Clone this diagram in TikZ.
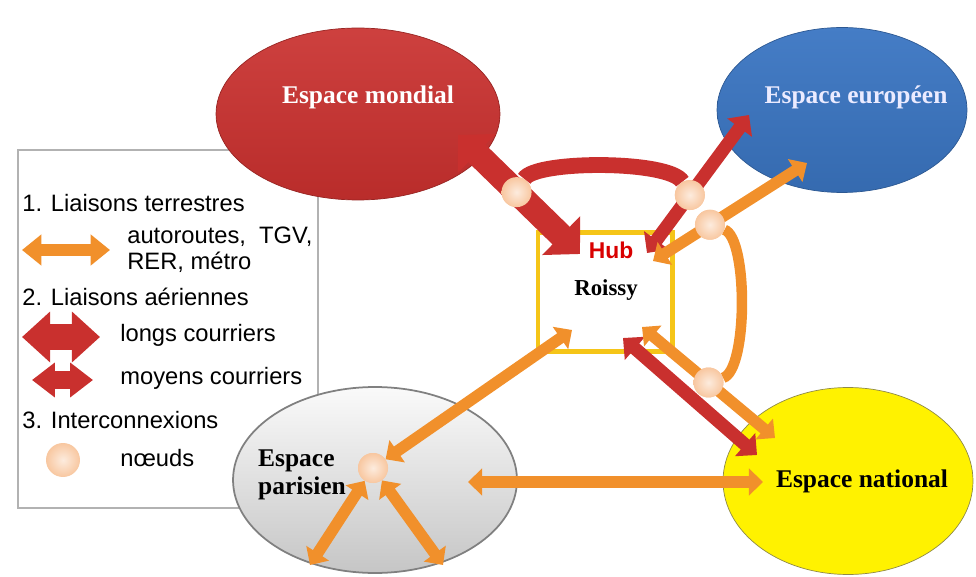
\documentclass[tikz,border=0pt]{standalone}
\usepackage{fontspec}
\setmainfont{Liberation Serif}
\setsansfont{Liberation Sans}
\usetikzlibrary{shapes.geometric,arrows.meta,calc}
\definecolor{rouge}{HTML}{C9302E}
\definecolor{terre}{HTML}{F1902B}
\definecolor{peche}{HTML}{F8C7A0}
\definecolor{bleu}{HTML}{3B76C3}
\definecolor{or}{HTML}{F5C518}
\tikzset{
  espace/.style={ellipse,inner sep=0pt},
  titre/.style={font=\bfseries\fontsize{14.5}{16}\selectfont,inner sep=0pt},
  legende/.style={font=\sffamily\fontsize{13.5}{15}\selectfont,anchor=west,inner sep=0pt},
  routes/.style={terre,line width=6.5pt,{Triangle[width=15pt,length=8pt]}-{Triangle[width=15pt,length=8pt]}},
  longs/.style={rouge,line width=14pt,{Triangle[width=30pt,length=15pt]}-{Triangle[width=30pt,length=15pt]}},
  moyens/.style={rouge,line width=7.5pt,{Triangle[width=17pt,length=9pt]}-{Triangle[width=17pt,length=9pt]}},
  noeud/.style={circle,minimum size=0.6cm,inner sep=0pt,inner color=peche!35!white,outer color=peche}
}
\begin{document}
\begin{tikzpicture}[x=0.02cm,y=-0.02cm]
  \useasboundingbox (0,0) rectangle (976,577);
  % legende
  \node[draw=gray!60,line width=1pt,fill=white,minimum width=6cm,minimum height=7.16cm] (cadre) at (168,329) {};
  \node[legende] (l1) at (22,203) {1. Liaisons terrestres};
  \node[legende] (l1a) at (127,237) {autoroutes,\ \ TGV,};
  \node[legende] (l1b) at (127,262) {RER, métro};
  \node[legende] (l2) at (22,297) {2. Liaisons aériennes};
  \node[legende] (l2a) at (120,335) {longs courriers};
  \node[legende] (l2b) at (120,378) {moyens courriers};
  \node[legende] (l3) at (22,420) {3. Interconnexions};
  \node[legende] (l3a) at (120,458) {nœuds};
  \coordinate (lt1) at (22,250);
  \coordinate (lt2) at (110,250);
  \coordinate (ll1) at (22,337);
  \coordinate (ll2) at (100,337);
  \coordinate (lm1) at (32,380);
  \coordinate (lm2) at (93,380);
  \draw[terre,line width=6.5pt,{Triangle[width=17pt,length=11pt]}-{Triangle[width=17pt,length=11pt]}] (lt1) -- (lt2);
  \draw[rouge,line width=15pt,{Triangle[width=28pt,length=16pt]}-{Triangle[width=28pt,length=16pt]}] (ll1) -- (ll2);
  \draw[rouge,line width=10pt,{Triangle[width=19pt,length=13pt]}-{Triangle[width=19pt,length=13pt]}] (lm1) -- (lm2);
  \node[noeud,minimum size=0.68cm] (ln) at (63,460) {};
  % espaces
  \node[espace,draw=rouge!75!black,top color=rouge!92!white,bottom color=rouge!92!black,
    minimum width=5.68cm,minimum height=3.44cm,
    label={[titre,white,xshift=0.2cm,yshift=0.34cm]center:Espace mondial}] (mondial) at (358,114) {};
  \node[espace,draw=bleu!75!black,top color=bleu!95!white,bottom color=bleu!90!black,
    minimum width=5cm,minimum height=3.3cm,
    label={[titre,white!92!blue,xshift=0.28cm,yshift=0.26cm]center:Espace européen}] (europeen) at (842,110) {};
  \node[espace,draw=gray,line width=1pt,top color=white!96!gray,bottom color=gray!45,
    minimum width=5.68cm,minimum height=3.72cm,
    label={[titre,align=left,xshift=-1.46cm,yshift=0.1cm]center:Espace\\parisien}] (parisien) at (375,480) {};
  \node[espace,draw=yellow!50!black,fill=yellow,
    minimum width=5cm,minimum height=3.74cm,
    label={[titre,xshift=0.28cm]center:Espace national}] (national) at (848,481) {};
  % hub
  \node[draw=or,line width=2.3pt,fill=white,minimum width=2.7cm,minimum height=2.38cm] (hub) at (605,292) {};
  \node[font=\sffamily\bfseries\fontsize{13}{14}\selectfont,text=red!85!black,inner sep=0pt] (hubtxt) at (611,250) {Hub};
  \node[font=\bfseries\fontsize{13}{14}\selectfont,inner sep=0pt] (roissy) at (606,290) {Roissy};
  % extremites
  \coordinate (m1) at (458,135);
  \coordinate (h1) at (580,254);
  \coordinate (h2) at (647,253);
  \coordinate (e1) at (749,115);
  \coordinate (h3) at (653,261);
  \coordinate (e2) at (807,163);
  \coordinate (h4) at (642,327);
  \coordinate (nat1) at (775,438);
  \coordinate (h5) at (623,338);
  \coordinate (nat2) at (757,455);
  \coordinate (h6) at (572,330);
  \coordinate (par1) at (468,482);
  \coordinate (nat3) at (763,482);
  \coordinate (par2) at (310,565);
  \coordinate (par3) at (443,565);
  \node[noeud] (n1) at ($(m1)!0.48!(h1)$) {};
  \node[noeud] (n2) at ($(h2)!0.42!(e1)$) {};
  \node[noeud] (n3) at ($(h3)!0.37!(e2)$) {};
  \node[noeud] (n4) at ($(h4)!0.5!(nat1)$) {};
  \node[noeud] (n5) at (373,468) {};
  % liaisons
  \draw[rouge,line width=9pt] (n1) .. controls (535,160) and (670,160) .. (n2);
  \draw[terre,line width=6pt] (n3) .. controls (748,238) and (748,370) .. (n4);
  \draw[longs] (m1) -- (h1);
  \draw[moyens] (h2) -- (e1);
  \draw[routes] (h3) -- (e2);
  \draw[moyens] (h5) -- (nat2);
  \draw[routes] (h4) -- (nat1);
  \draw[routes] (h6) -- (n5);
  \draw[routes] (par1) -- (nat3);
  \draw[routes] (n5) -- (par2);
  \draw[routes] (n5) -- (par3);
  % noeuds
  \foreach \n in {n1,n2,n3,n4,n5}
    \node[noeud] at (\n) {};
\end{tikzpicture}
\end{document}
